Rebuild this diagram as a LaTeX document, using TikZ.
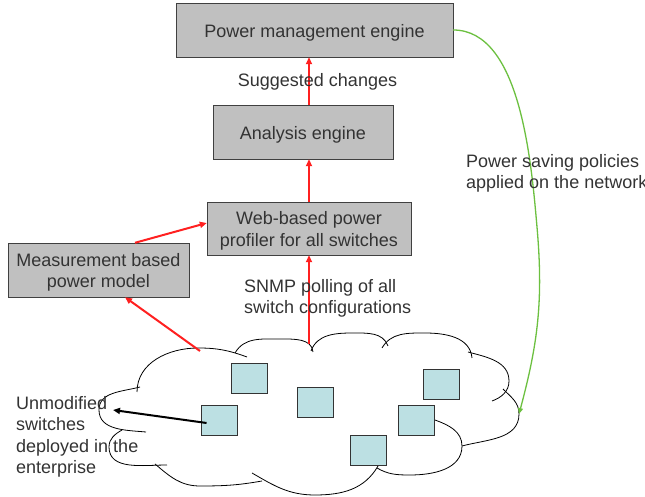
\documentclass[tikz,border=0pt]{standalone}
\usepackage{fontspec}
\setmainfont{Liberation Sans}
\usetikzlibrary{arrows.meta}
\definecolor{boxgray}{HTML}{C0C0C0}
\definecolor{swblue}{HTML}{BCE0E3}
\definecolor{arrowred}{HTML}{FF2020}
\definecolor{policygreen}{HTML}{6CC040}
\definecolor{textgray}{HTML}{333333}
\tikzset{
  engine/.style={draw=black!75, fill=boxgray, inner sep=0pt},
  switchbox/.style={draw=black!80, fill=swblue, line width=0.9pt, minimum width=36pt, minimum height=30pt, inner sep=0pt},
  flow/.style={draw=arrowred, line width=2pt, -{Triangle[length=7pt,width=6pt]}},
  lbl/.style={text=textgray, inner sep=0pt, align=left},
  boxtext/.style={text=textgray, inner sep=0pt, align=center, yshift=-2.5pt},
  puff/.style={draw=black, line width=0.8pt}
}
\begin{document}
\begin{tikzpicture}[x=1pt,y=1pt,font=\fontsize{18}{21.5}\selectfont]
\useasboundingbox (0,0) rectangle (645,497);

% the network cloud
\path[puff] (137,105) to[out=90,in=180] (198,149) to[out=0,in=160] (247,140);
\path[puff] (235,144) to[out=60,in=180] (280,158) to[out=0,in=95] (313,145);
\path[puff] (311,146) to[out=70,in=180] (353,164) to[out=0,in=110] (388,151);
\path[puff] (382,149) to[out=60,in=180] (425,164) to[out=0,in=95] (472,139);
\path[puff] (468,145) to[out=-15,in=90] (509,116) to[out=-90,in=20] (492,96);
\path[puff] (503,108) to[out=-45,in=90] (519,83) to[out=-90,in=15] (462,51);
\path[puff] (435,77) to[out=-20,in=90] (462,51) to[out=-90,in=0] (410,22) to[out=180,in=-30] (377,29);
\path[puff] (378,31) to[out=-120,in=0] (315,2) to[out=180,in=-30] (252,24);
\path[puff] (262,16) to[out=190,in=0] (200,11) to[out=180,in=-40] (155,33);
\path[puff] (167,32) to[out=180,in=-90] (109,50) to[out=90,in=-150] (122,67);
\path[puff] (146,65) to[out=175,in=-90] (99,87) to[out=90,in=195] (140,110);

\coordinate (netN) at (309,153);
\coordinate (netNW) at (200,146);
\coordinate (netE) at (519,83);
\coordinate (tipU) at (113,87);

\node[engine, minimum width=277pt, minimum height=54pt,
  label={[boxtext]center:Power management engine}] (pme) at (314.5,467) {};
\node[engine, minimum width=180pt, minimum height=54pt,
  label={[boxtext]center:Analysis engine}] (ana) at (303,365) {};
\node[engine, minimum width=204pt, minimum height=53pt,
  label={[boxtext]center:Web-based power\\profiler for all switches}] (web) at (309,268.5) {};
\node[engine, minimum width=181pt, minimum height=54pt,
  label={[boxtext]center:Measurement based\\power model}] (meas) at (98.5,227) {};

\node[switchbox] (swA) at (249,119) {};
\node[switchbox] (swB) at (315,95) {};
\node[switchbox] (swC) at (441,113) {};
\node[switchbox] (swD) at (219,77) {};
\node[switchbox] (swE) at (416.5,77) {};
\node[switchbox] (swF) at (368.5,47) {};

\path[flow] (web.north) -- (ana.south -| web.north);
\path[flow] (ana.north -| web.north) -- (pme.south -| web.north);
\path[flow] (netN) -- (web.south);
\path[flow] (netNW) -- ([xshift=26.5pt]meas.south);
\path[flow] ([xshift=36.5pt]meas.north) -- ([yshift=5.5pt]web.west);
\path[draw=policygreen, line width=1.3pt, -{Triangle[length=6pt,width=5pt]}]
  (pme.east) to[out=0,in=95,looseness=0.8] (537,270) to[out=-85,in=75] (netE);
\path[draw=black, line width=2pt, -{Triangle[length=7pt,width=6pt]}]
  ([xshift=6pt,yshift=-3pt]swD.west) -- (tipU);

\node[lbl] (sugg) at (317.5,415.5) {Suggested changes};
\node[lbl, anchor=west] (snmp) at (244,198.5) {SNMP polling of all\\switch configurations};
\node[lbl, anchor=west] (policy) at (466,323.5) {Power saving policies\\applied on the network};
\node[lbl, anchor=west] (unmod) at (16,60) {Unmodified\\switches\\deployed in the\\enterprise};
\end{tikzpicture}
\end{document}
